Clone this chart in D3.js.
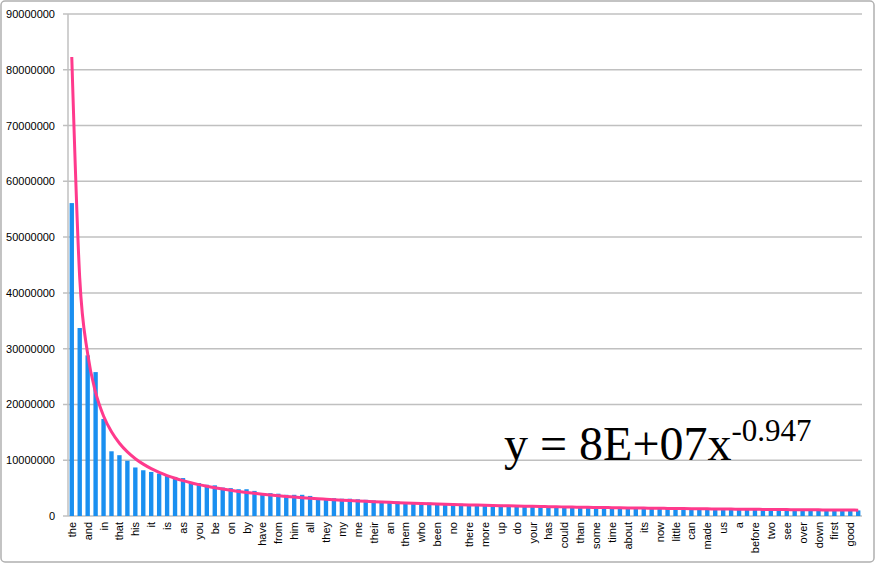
<!DOCTYPE html>
<html><head><meta charset="utf-8">
<script src="https://cdn.jsdelivr.net/npm/d3@7"></script>
<style>body{margin:0;background:#fff}text{font-family:"Liberation Sans",Arial,sans-serif}</style>
</head><body><svg id="chart" width="876" height="564"></svg>
<script>
var words = ["the","of","and","to","in","a","that","was","his","he","it","with","is","for","as","had","you","not","be","her","on","at","by","which","have","or","from","this","him","but","all","she","they","were","my","are","me","one","their","so","an","said","them","we","who","would","been","will","no","when","there","if","more","out","up","into","do","any","your","what","has","man","could","other","than","our","some","very","time","upon","about","may","its","only","now","like","little","then","can","should","made","did","us","such","a","great","before","must","two","these","see","know","over","much","down","after","first","mr","good","men"];
var counts = [56.1,33.7,28.8,25.8,17.4,11.6,10.9,9.9,8.7,8.2,7.9,7.6,7.3,7.0,6.8,6.0,5.9,5.6,5.5,5.1,5.0,4.8,4.8,4.5,4.1,4.1,4.0,3.8,3.8,3.8,3.6,3.2,3.2,3.2,3.1,3.1,3.0,2.9,2.8,2.7,2.6,2.6,2.5,2.5,2.4,2.4,2.3,2.3,2.2,2.2,2.1,2.1,2.1,2.0,2.0,1.95,1.9,1.9,1.85,1.8,1.8,1.75,1.7,1.7,1.65,1.65,1.6,1.6,1.55,1.55,1.5,1.5,1.5,1.45,1.45,1.4,1.4,1.4,1.35,1.35,1.3,1.3,1.3,1.25,1.25,1.25,1.2,1.2,1.2,1.15,1.15,1.15,1.1,1.1,1.1,1.1,1.05,1.05,1.05,1.0].map(function(v){return v*1e6;});
var yTicks = [0,10e6,20e6,30e6,40e6,50e6,60e6,70e6,80e6,90e6];
var trendCoef = 82.3e6, trendExp = -0.947;

var svg = d3.select("#chart");
var m = {left:68, right:862, top:14, bottom:516};
svg.append("rect").attr("x",1).attr("y",1).attr("width",873).attr("height",561).attr("rx",4)
   .attr("fill","none").attr("stroke","#b0b0b0").attr("stroke-width",1.5);

var x = d3.scaleBand().domain(d3.range(words.length)).range([m.left,m.right]).paddingInner(0.45).paddingOuter(0.2);
var y = d3.scaleLinear().domain([0,90e6]).range([m.bottom,m.top]);

svg.append("g").selectAll("line").data(yTicks).join("line")
  .attr("x1",m.left-5).attr("x2",m.right).attr("y1",function(d){return y(d);}).attr("y2",function(d){return y(d);})
  .attr("stroke","#c0c0c0").attr("stroke-width",1.5);
svg.append("line").attr("x1",m.left).attr("x2",m.left).attr("y1",m.top).attr("y2",m.bottom).attr("stroke","#c0c0c0").attr("stroke-width",1.5);
svg.append("g").selectAll("text").data(yTicks).join("text")
  .attr("x",m.left-13).attr("y",function(d){return y(d)+4;}).attr("text-anchor","end").attr("font-size",11)
  .text(function(d){return d3.format("d")(d);});

svg.append("g").selectAll("rect").data(counts).join("rect")
  .attr("x",function(d,i){return x(i);}).attr("width",x.bandwidth())
  .attr("y",function(d){return y(d);}).attr("height",function(d){return m.bottom-y(d);})
  .attr("fill","#1a8ff0");

svg.append("g").selectAll("text").data(words).join("text")
  .filter(function(d,i){return i%2===0;})
  .attr("transform",function(d,i){return "translate("+(x(i*2)+x.bandwidth()/2+4)+","+(m.bottom+6)+") rotate(-90)";})
  .attr("text-anchor","end").attr("font-size",11).text(function(d){return d;});

var line = d3.line().curve(d3.curveMonotoneX)
  .x(function(d,i){return x(i)+x.bandwidth()/2;}).y(function(d,i){return y(trendCoef*Math.pow(i+1,trendExp));});
svg.append("path").datum(words).attr("d",line).attr("fill","none").attr("stroke","#ff3a8c").attr("stroke-width",3);

var eq = svg.append("text").attr("x",504).attr("y",460).style("font-family","'Liberation Serif','Times New Roman',serif").attr("font-size",48);
eq.append("tspan").text("y = 8E+07x");
eq.append("tspan").attr("font-size",31).attr("dy",-19).text("-0.947");
</script></body></html>
